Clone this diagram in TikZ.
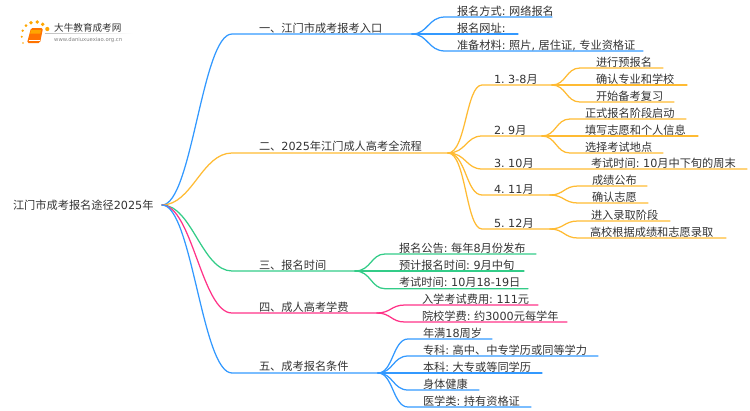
\documentclass[tikz,border=0pt]{standalone}
\usepackage{fontspec}
\setmainfont{DejaVu Sans}
\newfontfamily\cjk{Noto Sans CJK SC}
\newcommand{\zh}[1]{{\cjk #1}}
\frenchspacing
\definecolor{lblue}{HTML}{3399FF}
\definecolor{lorange}{HTML}{FFBB33}
\definecolor{lgreen}{HTML}{33CC88}
\definecolor{lpink}{HTML}{FF3388}
\definecolor{ink}{HTML}{333333}
\tikzset{
  lab/.style={anchor=base west,inner sep=0pt,outer sep=0pt,text=ink,font=\fontsize{11.2}{13}\selectfont},
  link/.style={line width=1.25pt,line cap=round},
}
\begin{document}
\begin{tikzpicture}[x=1pt,y=-1pt]
\useasboundingbox (0,0) rectangle (750,410);
% logo
\foreach \a/\b/\r in {23/43/0.9,21.7/36.7/1.1,22.7/30.7/1.3,26/25.7/1.5,31/22.7/1.8,37.3/22/1.9,42.7/24.3/1.9,47.3/29/2.1}
  \fill[orange!70!yellow] (\a,\b) circle (\r);
\fill[orange!90!red,rounded corners=1.5pt] (27,43) -- (31,28) -- (43,28) -- (40,43) -- cycle;
\fill[orange!70!yellow] (31,30) -- (41,30) -- (40.4,33.5) -- (30.2,33.5) -- cycle;
\draw[white,line width=0.5pt] (28.5,40) -- (40,40);
\fill[left color=gray!50,right color=white] (45,33) rectangle (133,33.7);
\node[anchor=base west,inner sep=0pt,text=ink,font=\fontsize{9.6}{11}\selectfont\cjk] (logoname) at (54,31) {大牛教育成考网};
\node[anchor=base west,inner sep=0pt,text=gray,font=\fontsize{5.3}{6}\selectfont] (logourl) at (54,41) {www.daniuxuexiao.org.cn};
% root
\node[lab] (root) at (13,209) {\zh{江门市成考报名途径}2025\zh{年}};
\coordinate (o) at (162,205);
% branch 1
\coordinate (b1a) at (232,34); \coordinate (b1b) at (412,34);
\draw[link,lblue] (o) .. controls (192,205) and (202,34) .. (b1a) -- (b1b);
\node[lab] (n1) at (259,32) {\zh{一、江门市成考报考入口}};
\foreach \i/\y/\e in {1/17/552,2/34/518,3/51/643}{
  \coordinate (c\i a) at (445,\y); \coordinate (c\i b) at (\e,\y);
  \draw[link,lblue] (b1b) .. controls (428,34) and (428,\y) .. (c\i a) -- (c\i b);
}
\node[lab] (c1) at (457,15) {\zh{报名方式}: \zh{网络报名}};
\node[lab] (c2) at (457,32) {\zh{报名网址}:};
\node[lab] (c3) at (457,49) {\zh{准备材料}: \zh{照片}, \zh{居住证}, \zh{专业资格证}};
% branch 2
\coordinate (b2a) at (232,153); \coordinate (b2b) at (448,153);
\draw[link,lorange] (o) .. controls (192,205) and (202,153) .. (b2a) -- (b2b);
\node[lab] (n2) at (259,150) {\zh{二、}2025\zh{年江门成人高考全流程}};
\foreach \n/\y/\e in {p/85/552,q/136/542,r/169/747,s/195/550,t/229/550}{
  \coordinate (\n a) at (482,\y); \coordinate (\n b) at (\e,\y);
  \draw[link,lorange] (b2b) .. controls (466,153) and (466,\y) .. (\n a) -- (\n b);
}
\node[lab] (p0) at (494,83) {1. 3-8\zh{月}};
\node[lab] (q0) at (494,134) {2. 9\zh{月}};
\node[lab] (r0) at (494,167) {3. 10\zh{月}};
\node[lab] (s0) at (494,193) {4. 11\zh{月}};
\node[lab] (t0) at (494,227) {5. 12\zh{月}};
% leaves of 1.
\foreach \i/\y/\e in {1/68/663,2/85/687,3/102/674}{
  \coordinate (p\i a) at (580,\y); \coordinate (p\i b) at (\e,\y);
  \draw[link,lorange] (pb) .. controls (566,85) and (566,\y) .. (p\i a) -- (p\i b);
}
\node[lab] (p1) at (596,66) {\zh{进行预报名}};
\node[lab] (p2) at (596,83) {\zh{确认专业和学校}};
\node[lab] (p3) at (596,100) {\zh{开始备考复习}};
% leaves of 2.
\foreach \i/\y/\e in {1/119/686,2/136/698,3/153/663}{
  \coordinate (q\i a) at (570,\y); \coordinate (q\i b) at (\e,\y);
  \draw[link,lorange] (qb) .. controls (556,136) and (556,\y) .. (q\i a) -- (q\i b);
}
\node[lab] (q1) at (585,117) {\zh{正式报名阶段启动}};
\node[lab] (q2) at (585,134) {\zh{填写志愿和个人信息}};
\node[lab] (q3) at (585,151) {\zh{选择考试地点}};
\node[lab] (r1) at (591,167) {\zh{考试时间}: 10\zh{月中下旬的周末}};
% leaves of 4.
\foreach \i/\y/\e in {1/186/647,2/203/648}{
  \coordinate (s\i a) at (578,\y); \coordinate (s\i b) at (\e,\y);
  \draw[link,lorange] (sb) .. controls (564,195) and (564,\y) .. (s\i a) -- (s\i b);
}
\node[lab] (s1) at (592,184) {\zh{成绩公布}};
\node[lab] (s2) at (592,201) {\zh{确认志愿}};
% leaves of 5.
\foreach \i/\y/\e in {1/221/670,2/238/726}{
  \coordinate (t\i a) at (578,\y); \coordinate (t\i b) at (\e,\y);
  \draw[link,lorange] (tb) .. controls (564,229) and (564,\y) .. (t\i a) -- (t\i b);
}
\node[lab] (t1) at (591,219) {\zh{进入录取阶段}};
\node[lab] (t2) at (590,236) {\zh{高校根据成绩和志愿录取}};
% branch 3
\coordinate (b3a) at (232,271); \coordinate (b3b) at (355,271);
\draw[link,lgreen] (o) .. controls (192,205) and (202,271) .. (b3a) -- (b3b);
\node[lab] (n3) at (259,269) {\zh{三、报名时间}};
\foreach \i/\y/\e in {1/254/536,2/271/524,3/288.7/528}{
  \coordinate (g\i a) at (385,\y); \coordinate (g\i b) at (\e,\y);
  \draw[link,lgreen] (b3b) .. controls (371,271) and (371,\y) .. (g\i a) -- (g\i b);
}
\node[lab] (g1) at (399,252) {\zh{报名公告}: \zh{每年}8\zh{月份发布}};
\node[lab] (g2) at (399,269) {\zh{预计报名时间}: 9\zh{月中旬}};
\node[lab] (g3) at (399,286) {\zh{考试时间}: 10\zh{月}18-19\zh{日}};
% branch 4
\coordinate (b4a) at (232,313); \coordinate (b4b) at (377,313);
\draw[link,lpink] (o) .. controls (192,205) and (202,313) .. (b4a) -- (b4b);
\node[lab] (n4) at (259,311) {\zh{四、成人高考学费}};
\foreach \i/\y/\e in {1/305/538,2/322/567}{
  \coordinate (h\i a) at (405,\y); \coordinate (h\i b) at (\e,\y);
  \draw[link,lpink] (b4b) .. controls (391,313) and (391,\y) .. (h\i a) -- (h\i b);
}
\node[lab] (h1) at (422,303) {\zh{入学考试费用}: 111\zh{元}};
\node[lab] (h2) at (422,320) {\zh{院校学费}: \zh{约}3000\zh{元每学年}};
% branch 5
\coordinate (b5a) at (232,373); \coordinate (b5b) at (378,373);
\draw[link,lblue] (o) .. controls (192,205) and (202,373) .. (b5a) -- (b5b);
\node[lab] (n5) at (259,370) {\zh{五、成考报名条件}};
\foreach \i/\y/\e in {1/339/492,2/356/598,3/373/542,4/390/479,5/407/531}{
  \coordinate (k\i a) at (408,\y); \coordinate (k\i b) at (\e,\y);
  \draw[link,lblue] (b5b) .. controls (393,373) and (393,\y) .. (k\i a) -- (k\i b);
}
\node[lab] (k1) at (423,337) {\zh{年满}18\zh{周岁}};
\node[lab] (k2) at (423,354) {\zh{专科}: \zh{高中、中专学历或同等学力}};
\node[lab] (k3) at (423,371) {\zh{本科}: \zh{大专或等同学历}};
\node[lab] (k4) at (423,388) {\zh{身体健康}};
\node[lab] (k5) at (423,405) {\zh{医学类}: \zh{持有资格证}};
\end{tikzpicture}
\end{document}
